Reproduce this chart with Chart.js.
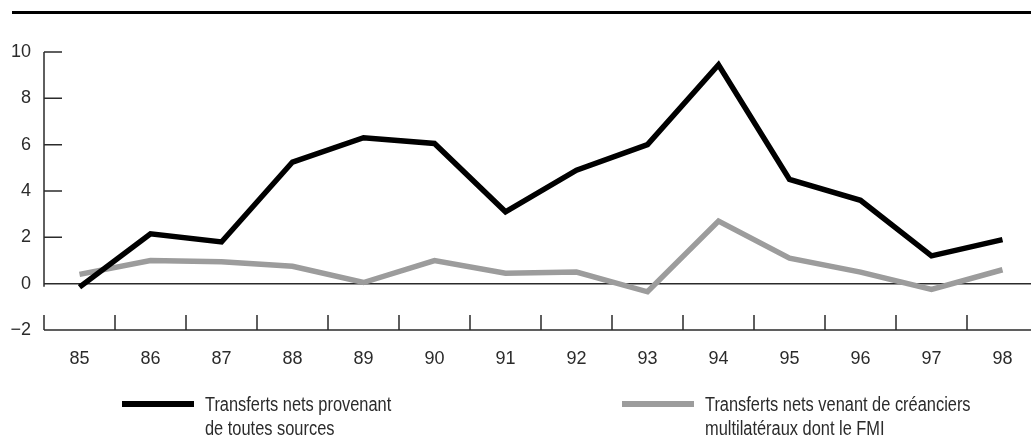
<!DOCTYPE html>
<html>
<head>
<meta charset="utf-8">
<script src="https://cdn.jsdelivr.net/npm/chart.js@4.4.1/dist/chart.umd.min.js"></script>
<style>
  html, body { margin: 0; padding: 0; background: #fff; }
  body { width: 1031px; height: 436px; overflow: hidden; position: relative;
         font-family: "Liberation Sans", Arial, sans-serif; color: #2b2b2b; }
  #rule { position: absolute; left: 12px; top: 11px; width: 1030px; height: 3px; background: #000; }
  #wrap { position: absolute; left: 0; top: 0; width: 1040px; height: 436px; }
  .swatch { position: absolute; top: 401px; width: 72px; height: 6px; }
  .key { position: absolute; top: 392px; font-size: 20px; line-height: 24px; white-space: nowrap;
         transform: scaleX(0.82); transform-origin: 0 0; }
</style>
</head>
<body>
<div id="rule"></div>
<div id="wrap"><canvas id="chart" width="1040" height="436"></canvas></div>
<div class="swatch" style="left:122px; background:#000"></div>
<div class="key" style="left:205px">Transferts nets provenant<br>de toutes sources</div>
<div class="swatch" style="left:622px; background:#9c9c9c"></div>
<div class="key" style="left:705px">Transferts nets venant de créanciers<br>multilatéraux dont le FMI</div>
<script>
// Net transfers, 1985–98 (percent)
const YEARS = ["85", "86", "87", "88", "89", "90", "91", "92", "93", "94", "95", "96", "97", "98"];
const ALL_SOURCES = [-0.15, 2.15, 1.8, 5.25, 6.3, 6.05, 3.1, 4.9, 6.0, 9.45, 4.5, 3.6, 1.2, 1.9];
const MULTILATERAL = [0.4, 1.0, 0.95, 0.75, 0.05, 1.0, 0.45, 0.5, -0.35, 2.7, 1.1, 0.5, -0.25, 0.6];
const LABELS = ["Transferts nets provenant de toutes sources",
                "Transferts nets venant de créanciers multilatéraux dont le FMI"];
const Y_MIN = -2, Y_MAX = 10, Y_STEP = 2;

const FONT = '"Liberation Sans", Arial, sans-serif';
const AXIS = "#2b2b2b";

// axis furniture: short inward ticks, zero line, bottom rule
const frame = {
  id: "frame",
  beforeDatasetsDraw(chart) {
    const { ctx, chartArea: a, scales: { x, y } } = chart;
    ctx.save();
    ctx.strokeStyle = AXIS;
    ctx.lineWidth = 1.5;
    const y0 = y.getPixelForValue(0);
    ctx.beginPath();
    ctx.moveTo(a.left, y.getPixelForValue(Y_MAX));
    ctx.lineTo(a.left, y0 + 3);
    for (let v = Y_STEP; v <= Y_MAX; v += Y_STEP) {
      const py = y.getPixelForValue(v);
      ctx.moveTo(a.left, py);
      ctx.lineTo(a.left + 18, py);
    }
    ctx.moveTo(a.left, y0);
    ctx.lineTo(a.right, y0);
    ctx.moveTo(a.left, a.bottom);
    ctx.lineTo(a.right, a.bottom);
    const half = (x.getPixelForValue(1) - x.getPixelForValue(0)) / 2;
    for (let i = 0; i < YEARS.length; i++) {
      const px = x.getPixelForValue(i) - half;
      ctx.moveTo(px, a.bottom - 15);
      ctx.lineTo(px, a.bottom);
    }
    ctx.stroke();
    ctx.restore();
  }
};

new Chart(document.getElementById("chart"), {
  type: "line",
  data: {
    labels: YEARS,
    datasets: [
      { label: LABELS[0], data: ALL_SOURCES, borderColor: "#000", borderWidth: 5.5 },
      { label: LABELS[1], data: MULTILATERAL, borderColor: "#9c9c9c", borderWidth: 5.5 },
    ],
  },
  options: {
    responsive: false,
    animation: false,
    events: [],
    layout: { padding: { top: 52, right: 2, left: 0, bottom: 0 } },
    elements: { point: { radius: 0 }, line: { tension: 0, fill: false } },
    plugins: { legend: { display: false }, tooltip: { enabled: false } },
    scales: {
      x: {
        offset: true,
        grid: { display: false, drawTicks: false },
        border: { display: false },
        ticks: { padding: 18, color: AXIS, font: { family: FONT, size: 18 }, maxRotation: 0 },
        afterFit: (s) => { s.height = 106; },
      },
      y: {
        min: Y_MIN,
        max: Y_MAX,
        grid: { display: false, drawTicks: false },
        border: { display: false },
        ticks: {
          stepSize: Y_STEP,
          padding: 13,
          color: AXIS,
          font: { family: FONT, size: 18 },
          callback: (v) => (v < 0 ? "\u2212" + Math.abs(v) : String(v)),
        },
        afterFit: (s) => { s.width = 44; },
      },
    },
  },
  plugins: [frame],
});
</script>
</body>
</html>
